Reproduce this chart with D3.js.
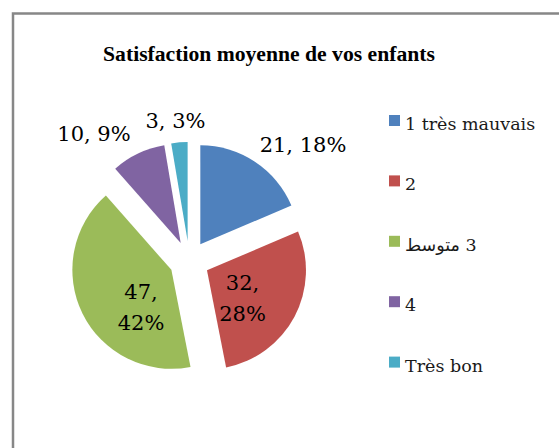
<!DOCTYPE html>
<html><head><meta charset="utf-8">
<script src="https://cdn.jsdelivr.net/npm/d3@7"></script>
<style>html,body{margin:0;padding:0;background:#fff;overflow:hidden}</style>
</head><body>
<svg id="c" width="559" height="448"></svg>
<script>
// ---- data ----
const chartTitle = "Satisfaction moyenne de vos enfants";
const categories = ["1 très mauvais", "2", "3 متوسط", "4", "Très bon"];
const values = [21, 32, 47, 10, 3];
const percentLabels = ["18%", "28%", "42%", "9%", "3%"];
const colors = ["#4F81BD", "#C0504D", "#9BBB59", "#8064A2", "#4BACC6"];

// ---- layout ----
const W = 559, H = 448;
const cx = 189.3, cy = 261, R = 99, explode = 20;
// label anchor offsets from pie centre, and whether label wraps to two lines
const labelLayout = [
  {dx: 113.7, dy: -109, wrap: false},
  {dx: 53.2, dy: 29, wrap: true},
  {dx: -48.3, dy: 38, wrap: true},
  {dx: -95.3, dy: -120, wrap: false},
  {dx: -13.8, dy: -133, wrap: false}
];
const serif = "'DejaVu Serif', 'DejaVu Sans', serif";

const svg = d3.select("#c");
svg.append("rect").attr("width", W).attr("height", H).attr("fill", "#fff");
svg.append("rect").attr("x", 13).attr("y", 13.5).attr("width", W + 20).attr("height", H + 20)
  .attr("fill", "none").attr("stroke", "#878787").attr("stroke-width", 2.5);

// title, fitted to the reference width
const t = svg.append("text").attr("x", 269).attr("y", 61).attr("text-anchor", "middle")
  .attr("font-family", "'Liberation Serif', serif").attr("font-weight", "bold")
  .attr("font-size", 20).attr("fill", "#000").text(chartTitle);
const tw = t.node().getComputedTextLength();
t.attr("font-size", 20 * 332 / tw);

// pie
const data = categories.map((c, i) => ({cat: c, value: values[i], pct: percentLabels[i], color: colors[i]}));
const pie = d3.pie().value(d => d.value).sort(null).startAngle(0).endAngle(2 * Math.PI);
const arc = d3.arc().innerRadius(0).outerRadius(R);
const arcs = pie(data);
const g = svg.append("g").attr("transform", `translate(${cx},${cy})`);
g.selectAll("path").data(arcs).join("path")
  .attr("d", arc)
  .attr("fill", d => d.data.color)
  .attr("transform", d => {
    const a = (d.startAngle + d.endAngle) / 2;
    return `translate(${Math.sin(a) * explode},${-Math.cos(a) * explode})`;
  });

// data labels
const lineH = 31;
arcs.forEach((d, i) => {
  const L = labelLayout[i];
  const txt = svg.append("text").attr("text-anchor", "middle")
    .attr("font-family", serif).attr("font-size", 21).attr("fill", "#000");
  if (L.wrap) {
    txt.append("tspan").attr("x", cx + L.dx).attr("y", cy + L.dy).text(d.data.value + ",");
    txt.append("tspan").attr("x", cx + L.dx).attr("y", cy + L.dy + lineH).text(d.data.pct);
  } else {
    txt.attr("x", cx + L.dx).attr("y", cy + L.dy).text(d.data.value + ", " + d.data.pct);
  }
});

// legend
const legX = 389, legY0 = 115, legStep = 60.4;
const leg = svg.append("g");
data.forEach((d, i) => {
  const y = legY0 + i * legStep;
  leg.append("rect").attr("x", legX).attr("y", y).attr("width", 11).attr("height", 11).attr("fill", d.color);
  const isRtl = /[\u0600-\u06FF]/.test(d.cat);
  const tx = leg.append("text").attr("x", 405).attr("y", y + 15)
    .attr("font-family", serif).attr("font-size", 17.5).attr("fill", "#1a1a1a").text(d.cat);
  if (isRtl) tx.attr("direction", "rtl").attr("text-anchor", "end");
});
</script>
</body></html>
